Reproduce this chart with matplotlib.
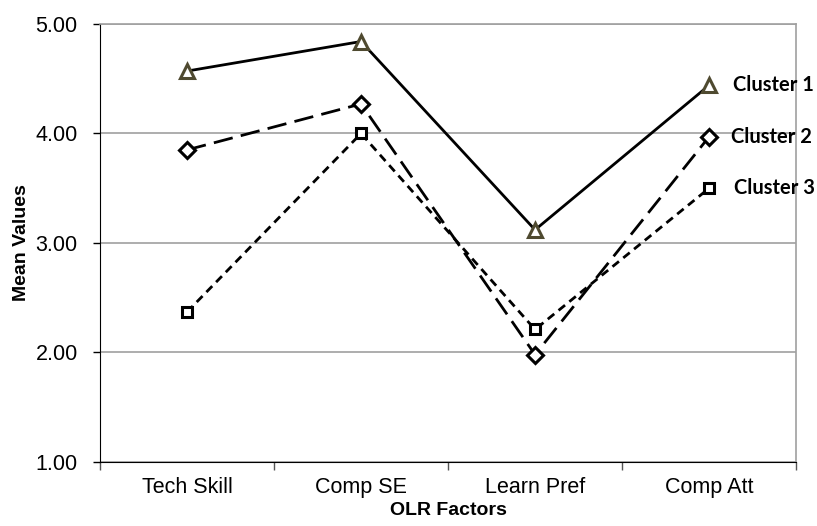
import numpy as np
import matplotlib.pyplot as plt

factors = ["Tech Skill", "Comp SE", "Learn Pref", "Comp Att"]
cluster_names = ["Cluster 1", "Cluster 2", "Cluster 3"]
cluster1 = [4.57, 4.84, 3.12, 4.44]
cluster2 = [3.85, 4.27, 1.98, 3.97]
cluster3 = [2.37, 4.00, 2.21, 3.50]

plt.rcParams["font.family"] = ["Liberation Sans", "DejaVu Sans"]

fig = plt.figure(figsize=(8.17, 5.26), dpi=100)
ax = fig.add_axes([0.1224, 0.1217, 0.852, 0.8327])

x = np.arange(1, len(factors) + 1)

styles = [
    dict(marker="^", mec="#4f4a30", ms=10, dashes=None),
    dict(marker="D", mec="black", ms=8, dashes=(7, 3)),
    dict(marker="s", mec="black", ms=7.5, dashes=(3, 2)),
]
offsets = [(17, 0), (16, 0), (18, 0)]

for vals, name, st, off in zip([cluster1, cluster2, cluster3], cluster_names, styles, offsets):
    line, = ax.plot(x, vals, color="black", lw=2.0, marker=st["marker"],
                    ms=st["ms"], mfc="white", mec=st["mec"], mew=2.2,
                    zorder=3, clip_on=False)
    if st["dashes"] is not None:
        line.set_dashes(st["dashes"])
    ax.annotate(name, (x[-1], vals[-1]), xytext=off, textcoords="offset points",
                va="center", ha="left", fontsize=14.5, fontweight="bold",
                family=["Lato", "DejaVu Sans"], annotation_clip=False)

ax.set_xlim(0.5, len(factors) + 0.5)
ax.set_ylim(1.0, 5.0)
ax.set_yticks([1, 2, 3, 4, 5])
ax.set_yticklabels([f"{v:.2f}" for v in [1, 2, 3, 4, 5]], fontsize=15.5)
ax.set_xticks(x)
ax.set_xticklabels(factors, fontsize=15.5)
ax.set_xticks(np.arange(0.5, len(factors) + 1, 1), minor=True)
ax.tick_params(axis="x", which="major", length=0, pad=11)
ax.tick_params(axis="x", which="minor", length=6, width=1, color="#555555")
ax.tick_params(axis="y", length=5, width=1, pad=11)

ax.yaxis.grid(True, color="#a0a0a0", lw=1.2)
ax.set_axisbelow(True)
for s in ["top", "right"]:
    ax.spines[s].set_color("#a0a0a0")
    ax.spines[s].set_linewidth(1.2)
ax.spines["left"].set_color("black")
ax.spines["bottom"].set_color("black")

ax.set_xlabel("OLR Factors", fontsize=14, fontweight="bold", labelpad=3)
ax.set_ylabel("Mean Values", fontsize=14, fontweight="bold", labelpad=4)

fig.savefig("out.png", dpi=100)
